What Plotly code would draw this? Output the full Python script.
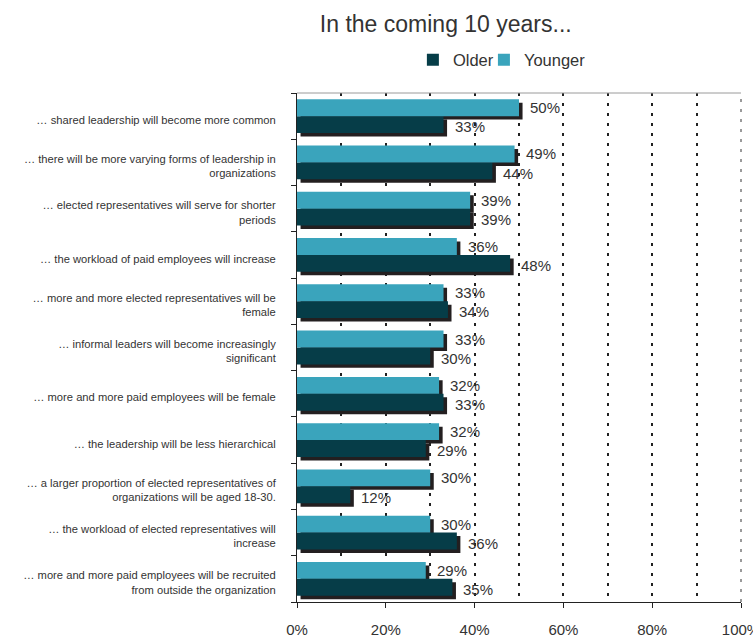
import plotly.graph_objects as go

# Survey statements (top to bottom)
statements = [
    "… shared leadership will become more common",
    "… there will be more varying forms of leadership in<br>organizations",
    "… elected representatives will serve for shorter<br>periods",
    "… the workload of paid employees will increase",
    "… more and more elected representatives will be<br>female",
    "… informal leaders will become increasingly<br>significant",
    "… more and more paid employees will be female",
    "… the leadership will be less hierarchical",
    "… a larger proportion of elected representatives of<br>organizations will be aged 18-30.",
    "… the workload of elected representatives will<br>increase",
    "… more and more paid employees will be recruited<br>from outside the organization",
]
younger = [50, 49, 39, 36, 33, 33, 32, 32, 30, 30, 29]
older = [33, 44, 39, 48, 34, 30, 33, 29, 12, 36, 35]
x_ticks = [0, 20, 40, 60, 80, 100]
x_tick_labels = ["0%", "20%", "40%", "60%", "80%", "100%"]

FONT = "Liberation Sans, Arial, sans-serif"
C_YOUNG = "#3aa4bc"
C_OLD = "#063d48"
C_SHADOW = "#231f20"
TXT = "#333333"

pos = list(range(len(statements)))
BAR_W = 0.365
SH_DX = 0.8     # drop-shadow shift along x (percent units)
SH_DY = 0.075   # drop-shadow shift along y (category units)

fig = go.Figure()

# drop shadows behind the bars
for vals, off in ((younger, -BAR_W), (older, 0.0)):
    fig.add_trace(go.Bar(
        y=pos, x=vals, base=[SH_DX] * len(vals), orientation="h",
        width=BAR_W, offset=off + SH_DY, marker=dict(color=C_SHADOW, line=dict(width=0)),
        showlegend=False, hoverinfo="skip"))

fig.add_trace(go.Bar(
    y=pos, x=older, orientation="h", name="Older", width=BAR_W, offset=0.0,
    marker=dict(color=C_OLD, line=dict(width=0)), legend="legend"))
fig.add_trace(go.Bar(
    y=pos, x=younger, orientation="h", name="Younger", width=BAR_W, offset=-BAR_W,
    marker=dict(color=C_YOUNG, line=dict(width=0)), legend="legend2"))

# value labels
for p, v in zip(pos, younger):
    fig.add_annotation(x=v, y=p - BAR_W / 2, text=f"{v}%", showarrow=False,
                       xanchor="left", yanchor="middle", xshift=9,
                       font=dict(family=FONT, size=15, color=TXT))
for p, v in zip(pos, older):
    fig.add_annotation(x=v, y=p + BAR_W / 2 + 0.05, text=f"{v}%", showarrow=False,
                       xanchor="left", yanchor="middle", xshift=9,
                       font=dict(family=FONT, size=15, color=TXT))

# plot frame: light top edge and right edge
fig.add_shape(type="line", xref="paper", yref="paper", x0=0, x1=1, y0=1, y1=1,
              line=dict(color="#9a9a9a", width=1))
fig.add_shape(type="line", xref="paper", yref="paper", x0=1, x1=1, y0=0, y1=1,
              line=dict(color="#9a9a9a", width=2, dash="3px,7px"))

legend_style = dict(orientation="h", xanchor="left", y=1.065, yanchor="middle",
                    font=dict(family=FONT, size=16.5, color=TXT), itemwidth=30,
                    bgcolor="rgba(0,0,0,0)")

fig.update_layout(
    width=753, height=639,
    margin=dict(l=297, r=12, t=93, b=37),
    paper_bgcolor="white", plot_bgcolor="white",
    barmode="overlay",
    font=dict(family=FONT, color=TXT),
    title=dict(text="In the coming 10 years...", xref="container", yref="container",
               x=0.592, xanchor="center", y=1 - 24 / 639, yanchor="middle",
               font=dict(family=FONT, size=23, color=TXT)),
    legend=dict(x=0.261, **legend_style),
    legend2=dict(x=0.421, **legend_style),
    xaxis=dict(range=[0, 100], tickvals=x_ticks, ticktext=x_tick_labels,
               showline=True, linecolor="#222", linewidth=1,
               ticks="outside", ticklen=5, tickcolor="#222",
               ticklabelstandoff=9, ticklabeloverflow="allow", automargin=False,
               tickfont=dict(family=FONT, size=15, color=TXT),
               showgrid=True, gridcolor="#222", gridwidth=2, griddash="3px,7px",
               minor=dict(dtick=10, tick0=0, showgrid=True, gridcolor="#222",
                          gridwidth=2, griddash="3px,7px"),
               zeroline=False, fixedrange=True),
    yaxis=dict(range=[10.5, -0.5], tickvals=[p + 0.08 for p in pos], ticktext=statements,
               showline=True, linecolor="#222", linewidth=1,
               ticks="", ticklabelstandoff=18, automargin=False,
               tickfont=dict(family=FONT, size=11.2, color=TXT),
               minor=dict(tickmode="linear", tick0=-0.5, dtick=1, ticks="outside",
                          ticklen=5, tickcolor="#222", showgrid=False),
               showgrid=False, zeroline=False, fixedrange=True),
)

fig.write_html("out.html")
